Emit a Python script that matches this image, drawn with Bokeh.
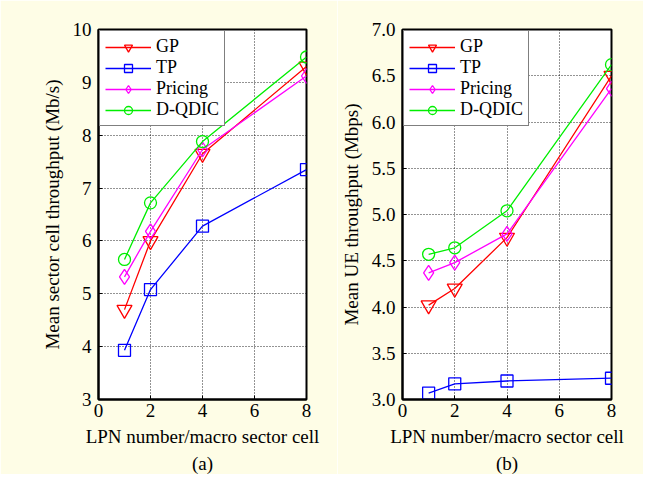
from bokeh.plotting import figure
from bokeh.layouts import row
from bokeh.models import Title, Legend, LegendItem, FixedTicker, NumeralTickFormatter
from bokeh.embed import file_html
from bokeh.resources import INLINE

x_vals = [1, 2, 4, 8]

# (a) Mean sector cell throughput (Mb/s)
a_gp = [4.70, 6.00, 7.65, 9.30]
a_tp = [3.93, 5.08, 6.28, 7.35]
a_pricing = [5.32, 6.18, 7.73, 9.12]
a_dqdic = [5.65, 6.72, 7.88, 9.48]

# (b) Mean UE throughput (Mbps)
b_gp = [4.02, 4.20, 4.75, 6.50]
b_tp = [3.07, 3.17, 3.20, 3.23]
b_pricing = [4.37, 4.48, 4.79, 6.36]
b_dqdic = [4.57, 4.64, 5.04, 6.62]

series_names = ["GP", "TP", "Pricing", "D-QDIC"]
x_ticks = [0, 2, 4, 6, 8]
a_ticks = [3, 4, 5, 6, 7, 8, 9, 10]
b_ticks = [3.0, 3.5, 4.0, 4.5, 5.0, 5.5, 6.0, 6.5, 7.0]

BG = "#fefde6"
FONT = "Liberation Serif"
FS = "19px"
LEG_FS = "18px"
colors = ["#ff0000", "#0000ff", "#ff00ff", "#00ee00"]
markers = ["inverted_triangle", "square", "diamond", "circle"]
msizes = [15, 12, 15, 12]


def make_fig(fw, left, right, ydata, yrange, yticks, ylabel, caption, yfmt):
    p = figure(frame_width=fw, frame_height=370, output_backend="svg", toolbar_location=None,
               x_range=(0, 8), y_range=yrange,
               min_border_left=left, min_border_right=right,
               min_border_top=29, min_border_bottom=12)
    p.background_fill_color = "white"
    p.border_fill_color = BG
    p.outline_line_color = "black"
    p.outline_line_width = 2
    for ax in (p.xaxis[0], p.yaxis[0]):
        ax.axis_line_color = "black"
        ax.axis_line_width = 2
        ax.major_tick_in = 4
        ax.major_tick_out = 0
        ax.minor_tick_line_color = None
        ax.major_label_text_font = FONT
        ax.major_label_text_font_size = FS
        ax.major_label_text_color = "black"
        ax.axis_label_text_font = FONT
        ax.axis_label_text_font_size = FS
        ax.axis_label_text_font_style = "normal"
        ax.axis_label_text_color = "black"
    p.xaxis.ticker = FixedTicker(ticks=x_ticks)
    p.yaxis.ticker = FixedTicker(ticks=yticks)
    if yfmt:
        p.yaxis.formatter = NumeralTickFormatter(format="0.0")
    p.xaxis.axis_label = "LPN number/macro sector cell"
    p.yaxis.axis_label = ylabel
    p.xaxis.major_label_standoff = 4
    p.yaxis.major_label_standoff = 7
    p.xaxis.axis_label_standoff = 6
    p.yaxis.axis_label_standoff = 7
    for g in (p.xgrid[0], p.ygrid[0]):
        g.grid_line_color = "black"
        g.grid_line_dash = "1 2"
        g.grid_line_width = 1
        g.grid_line_alpha = 0.85

    items = []
    for name, ys, c, m, s in zip(series_names, ydata, colors, markers, msizes):
        ln = p.line(x_vals, ys, line_color=c, line_width=1.3)
        sc = p.scatter(x_vals, ys, marker=m, size=s, line_color=c, fill_color=None, line_width=1.3)
        items.append(LegendItem(label=name, renderers=[ln, sc]))
    leg = Legend(items=items, location="top_left")
    leg.label_text_font = FONT
    leg.label_text_font_size = LEG_FS
    leg.label_text_color = "black"
    leg.border_line_color = "black"
    leg.border_line_width = 1.5
    leg.background_fill_color = "white"
    leg.background_fill_alpha = 1
    leg.glyph_width = 46
    leg.glyph_height = 20
    leg.label_height = 20
    leg.spacing = 0
    leg.padding = 5
    leg.margin = 1
    leg.label_standoff = 5
    p.add_layout(leg)

    t = Title(text=caption, align="center", text_font=FONT, text_font_size=FS,
              text_font_style="normal", text_color="black", standoff=2)
    p.add_layout(t, "below")
    return p


p1 = make_fig(208, 98, 31, [a_gp, a_tp, a_pricing, a_dqdic], (3, 10), a_ticks,
              "Mean sector cell throughput (Mb/s)", "(a)", False)
p2 = make_fig(209, 62, 32, [b_gp, b_tp, b_pricing, b_dqdic], (3, 7), b_ticks,
              "Mean UE throughput (Mbps)", "(b)", True)

layout = row(p1, p2, spacing=0)
open("out.html", "w").write(file_html(layout, INLINE))
